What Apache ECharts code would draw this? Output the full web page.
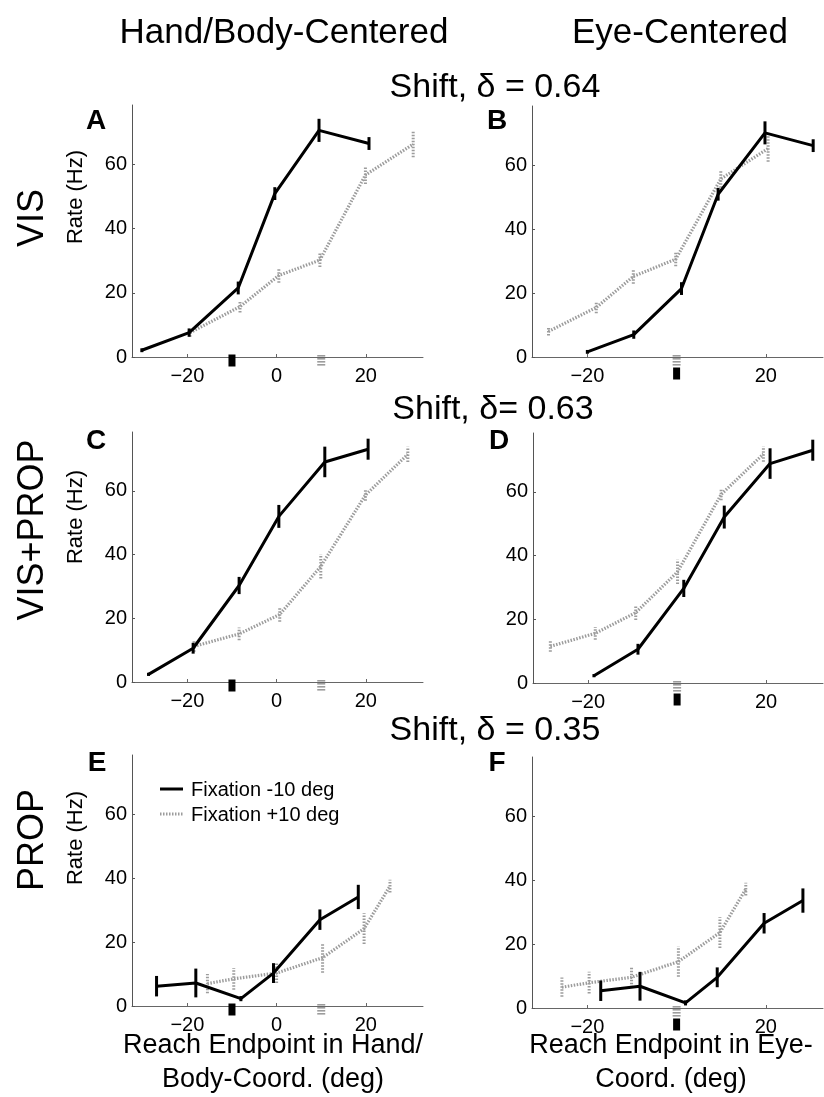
<!DOCTYPE html>
<html><head><meta charset="utf-8">
<script src="https://cdn.jsdelivr.net/npm/echarts@6/dist/echarts.min.js"></script>
<style>html,body{margin:0;padding:0;background:#fff}#c{width:824px;height:1097px}</style>
</head><body><div id="c"></div>
<script>
// ---------- text ----------
const colTitles = ['Hand/Body-Centered', 'Eye-Centered'];
const rowLabels = ['VIS', 'VIS+PROP', 'PROP'];
const shiftTitles = ['Shift, \u03b4 = 0.64', 'Shift, \u03b4= 0.63', 'Shift, \u03b4 = 0.35'];
const panelLetters = ['A', 'B', 'C', 'D', 'E', 'F'];
const seriesNames = ['Fixation -10 deg', 'Fixation +10 deg'];
const yTitle = 'Rate (Hz)';
const xTitles = ['Reach Endpoint in Hand/\nBody-Coord. (deg)', 'Reach Endpoint in Eye-\nCoord. (deg)'];

// ---------- ticks ----------
const yTicks = [0, 20, 40, 60];
const xTicksHand = [-20, 0, 20];
const xTicksEye = [-20, 20];

// ---------- fixation markers (deg) ----------
const handFixBlack = [-10];
const handFixGray = [10];
const eyeFixBlack = [0];
const eyeFixGray = [0];

// ---------- data: A (VIS, hand) ----------
const A_black_x = [-30.2, -19.6, -8.6, -0.4, 9.5, 20.7];
const A_black_y = [2.1, 7.6, 21.5, 50.9, 70.6, 66.5];
const A_black_e = [0.6, 1.3, 2.0, 2.0, 3.6, 2.0];
const A_gray_x = [-19.4, -8.2, 0.5, 9.7, 19.9, 30.6];
const A_gray_y = [7.6, 15.7, 25.4, 30.2, 56.7, 66.3];
const A_gray_e = [1.3, 1.8, 2.3, 2.2, 2.8, 4.1];
// ---------- B (VIS, eye) ----------
const B_black_x = [-20.0, -9.6, 1.1, 9.3, 19.8, 30.6];
const B_black_y = [1.6, 7.0, 21.4, 50.9, 70.1, 66.1];
const B_black_e = [0.6, 1.3, 2.0, 2.0, 3.6, 2.0];
const B_gray_x = [-28.7, -18.0, -9.7, -0.2, 9.9, 20.5];
const B_gray_y = [8.0, 15.5, 25.2, 30.6, 55.7, 65.2];
const B_gray_e = [1.3, 1.8, 2.3, 2.2, 2.8, 4.1];
// ---------- C (VIS+PROP, hand) ----------
const C_black_x = [-28.7, -18.7, -8.4, 0.5, 10.8, 20.5];
const C_black_y = [2.4, 10.6, 30.3, 52.0, 69.1, 73.1];
const C_black_e = [0.5, 1.7, 2.7, 3.6, 4.8, 3.3];
const C_gray_x = [-18.5, -8.4, 0.7, 9.9, 19.9, 29.4];
const C_gray_y = [11.2, 15.1, 21.2, 36.3, 58.7, 71.5];
const C_gray_e = [1.7, 2.0, 2.3, 3.8, 1.8, 2.4];
// ---------- D (VIS+PROP, eye) ----------
const D_black_x = [-18.7, -8.8, 1.5, 10.6, 20.9, 30.5];
const D_black_y = [2.3, 10.6, 29.7, 52.1, 68.9, 73.1];
const D_black_e = [0.5, 1.7, 2.7, 3.6, 4.8, 3.3];
const D_gray_x = [-28.5, -18.4, -9.3, 0.1, 9.9, 19.4];
const D_gray_y = [11.5, 15.6, 22.1, 34.9, 59.2, 71.9];
const D_gray_e = [1.7, 2.0, 2.3, 3.8, 1.8, 2.4];
// ---------- E (PROP, hand) ----------
const E_black_x = [-26.9, -18.1, -8.0, -0.7, 9.7, 18.3];
const E_black_y = [6.2, 7.2, 2.3, 10.3, 27.0, 34.1];
const E_black_e = [3.2, 4.5, 0.8, 3.1, 3.2, 3.8];
const E_gray_x = [-15.5, -9.6, 0.0, 10.3, 19.6, 25.4];
const E_gray_y = [7.0, 8.5, 10.3, 15.1, 24.2, 37.5];
const E_gray_e = [3.0, 3.4, 3.1, 4.7, 4.8, 2.0];
// ---------- F (PROP, eye) ----------
const F_black_x = [-17.0, -8.2, 2.0, 9.1, 19.6, 28.3];
const F_black_y = [5.4, 6.8, 1.6, 9.6, 26.5, 33.6];
const F_black_e = [3.2, 4.5, 0.8, 3.1, 3.2, 3.8];
const F_gray_x = [-25.7, -19.6, -10.1, 0.4, 9.7, 15.5];
const F_gray_y = [6.5, 7.9, 9.6, 14.5, 23.6, 37.2];
const F_gray_e = [3.0, 3.4, 3.1, 4.7, 4.8, 2.0];

// ---------- layout (style only) ----------
const FONT = '"Liberation Sans", Arial, Helvetica, sans-serif';
const BLACK = '#000';
const GRAY = '#9c9c9c';
const X_MIN = -32.4, X_MAX = 32.8, Y_MAX = 78.5;

const panels = [
  {grid: {left: 132, top: 105, width: 291, height: 252}, hand: true,
   bx: A_black_x, by: A_black_y, be: A_black_e, gx: A_gray_x, gy: A_gray_y, ge: A_gray_e},
  {grid: {left: 532, top: 106, width: 291, height: 251}, hand: false,
   bx: B_black_x, by: B_black_y, be: B_black_e, gx: B_gray_x, gy: B_gray_y, ge: B_gray_e},
  {grid: {left: 132, top: 432, width: 291, height: 250}, hand: true,
   bx: C_black_x, by: C_black_y, be: C_black_e, gx: C_gray_x, gy: C_gray_y, ge: C_gray_e},
  {grid: {left: 533, top: 433, width: 290, height: 250}, hand: false,
   bx: D_black_x, by: D_black_y, be: D_black_e, gx: D_gray_x, gy: D_gray_y, ge: D_gray_e},
  {grid: {left: 132, top: 755, width: 291, height: 251}, hand: true,
   bx: E_black_x, by: E_black_y, be: E_black_e, gx: E_gray_x, gy: E_gray_y, ge: E_gray_e},
  {grid: {left: 532, top: 757, width: 291, height: 251}, hand: false,
   bx: F_black_x, by: F_black_y, be: F_black_e, gx: F_gray_x, gy: F_gray_y, ge: F_gray_e}
];

function zip2(a, b) { return a.map((v, i) => [v, b[i]]); }
function zip3(a, b, c) { return a.map((v, i) => [v, b[i], c[i]]); }
function fmt(v) { return v < 0 ? '\u2212' + Math.abs(v) : String(v); }

function errRender(color, dashed) {
  return function (params, api) {
    const x = api.value(0), y = api.value(1), e = api.value(2);
    const p1 = api.coord([x, y - e]), p2 = api.coord([x, y + e]);
    return {type: 'line', shape: {x1: p1[0], y1: p1[1], x2: p2[0], y2: p2[1]},
      style: {stroke: color, lineWidth: 3, lineDash: dashed ? [1.5, 1.5] : null}};
  };
}
function markerRender(kind, slot) {
  return function (params, api) {
    const p = api.coord([api.value(0), 0]);
    const top = p[1] - 2.5 + slot * 13;
    if (kind === 'black') {
      return {type: 'rect', shape: {x: p[0] - 3.5, y: top, width: 7, height: 12}, style: {fill: BLACK}};
    }
    const children = [];
    for (let i = 0; i < 4; i++) {
      children.push({type: 'rect', shape: {x: p[0] - 4, y: top + 0.5 + i * 3, width: 8, height: 1.6}, style: {fill: GRAY}});
    }
    return {type: 'group', children: children};
  };
}

const grids = [], xAxes = [], yAxes = [], series = [];
panels.forEach((p, i) => {
  grids.push(Object.assign({containLabel: false}, p.grid));
  const xt = p.hand ? xTicksHand : xTicksEye;
  xAxes.push({type: 'value', gridIndex: i, min: X_MIN, max: X_MAX,
    axisLine: {show: true, onZero: false, lineStyle: {color: '#666', width: 1}},
    axisTick: {show: true, inside: true, length: 3, customValues: xt, lineStyle: {color: '#666'}},
    axisLabel: {customValues: xt, formatter: fmt, color: '#000', fontSize: 20, fontFamily: FONT, margin: 9},
    splitLine: {show: false}});
  yAxes.push({type: 'value', gridIndex: i, min: 0, max: Y_MAX,
    axisLine: {show: true, onZero: false, lineStyle: {color: '#555', width: 1}},
    axisTick: {show: true, inside: true, length: 3, customValues: yTicks, lineStyle: {color: '#555'}},
    axisLabel: {customValues: yTicks, formatter: fmt, color: '#000', fontSize: 20, fontFamily: FONT, margin: 5},
    splitLine: {show: false}});
  series.push({type: 'line', name: seriesNames[1], xAxisIndex: i, yAxisIndex: i, data: zip2(p.gx, p.gy),
    symbol: 'none', lineStyle: {color: GRAY, width: 3.2, type: [1.5, 1.5]}, itemStyle: {color: GRAY}, z: 2, silent: true});
  series.push({type: 'custom', xAxisIndex: i, yAxisIndex: i, data: zip3(p.gx, p.gy, p.ge),
    renderItem: errRender(GRAY, true), z: 2, silent: true});
  series.push({type: 'line', name: seriesNames[0], xAxisIndex: i, yAxisIndex: i, data: zip2(p.bx, p.by),
    symbol: 'none', lineStyle: {color: BLACK, width: 3}, itemStyle: {color: BLACK}, z: 3, silent: true});
  series.push({type: 'custom', xAxisIndex: i, yAxisIndex: i, data: zip3(p.bx, p.by, p.be),
    renderItem: errRender(BLACK, false), z: 3, silent: true});
  if (p.hand) {
    series.push({type: 'custom', xAxisIndex: i, yAxisIndex: i, data: handFixBlack.map(v => [v]),
      renderItem: markerRender('black', 0), clip: false, z: 4, silent: true});
    series.push({type: 'custom', xAxisIndex: i, yAxisIndex: i, data: handFixGray.map(v => [v]),
      renderItem: markerRender('gray', 0), clip: false, z: 4, silent: true});
  } else {
    series.push({type: 'custom', xAxisIndex: i, yAxisIndex: i, data: eyeFixGray.map(v => [v]),
      renderItem: markerRender('gray', 0), clip: false, z: 4, silent: true});
    series.push({type: 'custom', xAxisIndex: i, yAxisIndex: i, data: eyeFixBlack.map(v => [v]),
      renderItem: markerRender('black', 1), clip: false, z: 4, silent: true});
  }
});

const graphics = [];
function txt(x, y, text, size, opts) {
  graphics.push(Object.assign({type: 'text', x: x, y: y,
    style: Object.assign({text: text, fontSize: size, fontFamily: FONT, fill: '#000',
      align: 'center', verticalAlign: 'middle'}, (opts && opts.style) || {})},
    opts && opts.rotation ? {rotation: opts.rotation} : {}));
}
txt(284, 33, colTitles[0], 35);
txt(680, 33, colTitles[1], 35);
txt(495, 88, shiftTitles[0], 34);
txt(493, 410, shiftTitles[1], 34);
txt(495, 731, shiftTitles[2], 34);
const rowY = [218, 530, 840];
rowLabels.forEach((t, i) => txt(33, rowY[i], t, 36, {rotation: Math.PI / 2}));
const rateY = [197, 517, 838];
rateY.forEach(y => txt(76, y, yTitle, 22, {rotation: Math.PI / 2}));
const letterPos = [[96, 121], [497, 121], [96, 441], [499, 441], [97, 763], [497, 763]];
panelLetters.forEach((t, i) => txt(letterPos[i][0], letterPos[i][1], t, 28, {style: {fontWeight: 'bold'}}));
txt(273, 1063, xTitles[0], 27, {style: {lineHeight: 34}});
txt(671, 1063, xTitles[1], 27, {style: {lineHeight: 34}});

// legend (panel E)
graphics.push({type: 'line', shape: {x1: 160, y1: 789, x2: 183, y2: 789}, style: {stroke: BLACK, lineWidth: 3}});
graphics.push({type: 'line', shape: {x1: 160, y1: 814, x2: 183, y2: 814}, style: {stroke: GRAY, lineWidth: 3.2, lineDash: [1.5, 1.5]}});
txt(191, 790, seriesNames[0], 20, {style: {align: 'left'}});
txt(191, 815, seriesNames[1], 20, {style: {align: 'left'}});

const chart = echarts.init(document.getElementById('c'), null, {renderer: 'canvas'});
chart.setOption({
  animation: false,
  backgroundColor: '#fff',
  grid: grids,
  xAxis: xAxes,
  yAxis: yAxes,
  series: series,
  graphic: graphics
});
</script>
</body></html>
